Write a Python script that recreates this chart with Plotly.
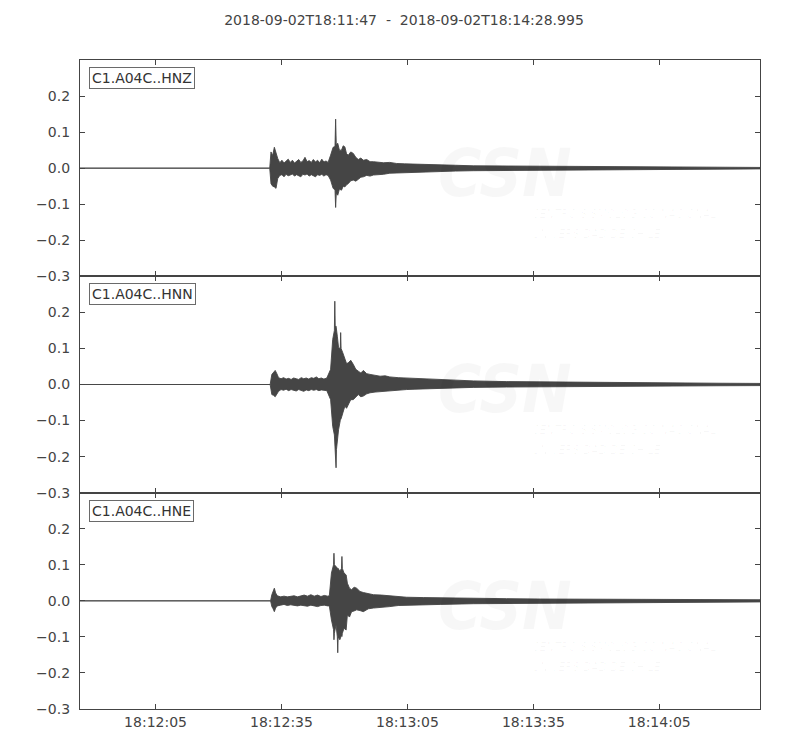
import pandas as pd
import plotly.graph_objects as go
from plotly.subplots import make_subplots


#--------------------------------------------------
#   envelope of the three traces
#   times are seconds after 2018-09-02T18:11:47
#--------------------------------------------------
start = '2018-09-02 18:11:47'
end = '2018-09-02 18:14:28.995'
channels = ['C1.A04C..HNZ', 'C1.A04C..HNN', 'C1.A04C..HNE']

hnz_t = [0, 45.2, 45.5, 45.9, 46.3, 46.7, 47.1, 47.6, 48.1, 48.6, 49.1, 49.6, 50.1, 50.6, 51.1,
         51.6, 52.1, 52.6, 53.1, 53.6, 54.1, 54.6, 55.1, 55.6, 56.1, 56.6, 57.1, 57.6, 58.1,
         58.6, 59.1, 59.7, 60.3, 60.75, 60.9, 61.05, 61.4, 61.8, 62.3, 62.7, 63.1, 63.5, 63.9,
         64.5, 65.1, 65.7, 66.3, 66.9, 67.5, 68.3, 69.1, 69.9, 71.0, 72.3, 73.8, 75.4, 77.3,
         79.4, 82.5, 85.8, 89.5, 93.7, 101.6, 109.6, 124, 138, 152, 162]
hnz_up = [0, 0, 0.045, 0.035, 0.058, 0.04, 0.027, 0.015, 0.022, 0.014, 0.02, 0.025, 0.016, 0.022, 0.014,
          0.019, 0.024, 0.016, 0.02, 0.03, 0.018, 0.021, 0.016, 0.024, 0.017, 0.022, 0.015, 0.025, 0.017,
          0.02, 0.016, 0.036, 0.058, 0.06, 0.136, 0.065, 0.069, 0.05, 0.05, 0.062, 0.059, 0.04, 0.036,
          0.045, 0.041, 0.03, 0.024, 0.028, 0.022, 0.024, 0.018, 0.018, 0.016, 0.015, 0.016, 0.013, 0.012,
          0.011, 0.010, 0.009, 0.008, 0.0065, 0.006, 0.005, 0.004, 0.003, 0.0025, 0.002]
hnz_lo = [0, 0, -0.043, -0.05, -0.052, -0.056, -0.029, -0.02, -0.018, -0.024, -0.017, -0.021, -0.019, -0.016, -0.022,
          -0.018, -0.02, -0.024, -0.017, -0.019, -0.016, -0.022, -0.018, -0.02, -0.024, -0.018, -0.02, -0.017, -0.022,
          -0.018, -0.02, -0.033, -0.056, -0.06, -0.109, -0.07, -0.075, -0.058, -0.061, -0.05, -0.052, -0.046, -0.043,
          -0.035, -0.033, -0.036, -0.031, -0.025, -0.024, -0.02, -0.022, -0.019, -0.018, -0.017, -0.014, -0.013, -0.012,
          -0.011, -0.010, -0.009, -0.008, -0.007, -0.006, -0.005, -0.004, -0.003, -0.0025, -0.002]

hnn_t = [0, 45.3, 45.7, 46.1, 46.5, 46.9, 47.3, 47.9, 48.5, 49.1, 49.7, 50.3, 50.9, 51.5, 52.1,
         52.7, 53.3, 53.9, 54.5, 55.1, 55.7, 56.3, 56.9, 57.5, 58.1, 58.8, 59.7, 60.2, 60.6,
         60.7, 60.8, 61.0, 61.1, 61.3, 61.6, 62.0, 62.1, 62.2, 62.6, 63.1, 63.5, 63.9, 64.5,
         65.1, 65.7, 66.3, 66.9, 67.5, 68.3, 69.1, 70.3, 71.5, 72.7, 73.8, 75.8, 77.8, 79.8,
         81.8, 85.8, 89.5, 93.7, 101.6, 109.6, 124, 138, 152, 162]
hnn_up = [0, 0, 0.028, 0.035, 0.039, 0.03, 0.019, 0.016, 0.019, 0.015, 0.017, 0.014, 0.018, 0.016, 0.014,
          0.019, 0.016, 0.018, 0.015, 0.019, 0.017, 0.021, 0.016, 0.018, 0.015, 0.018, 0.042, 0.125, 0.15,
          0.231, 0.16, 0.162, 0.14, 0.134, 0.102, 0.10, 0.144, 0.10, 0.088, 0.069, 0.058, 0.06, 0.067,
          0.056, 0.042, 0.037, 0.032, 0.039, 0.03, 0.028, 0.026, 0.023, 0.024, 0.021, 0.019, 0.018, 0.017,
          0.016, 0.012, 0.011, 0.010, 0.008, 0.007, 0.005, 0.004, 0.0035, 0.003]
hnn_lo = [0, 0, -0.028, -0.03, -0.034, -0.026, -0.019, -0.014, -0.016, -0.013, -0.017, -0.014, -0.016, -0.018, -0.014,
          -0.016, -0.019, -0.015, -0.017, -0.014, -0.016, -0.014, -0.017, -0.015, -0.016, -0.017, -0.042, -0.116, -0.14,
          -0.157, -0.17, -0.231, -0.18, -0.162, -0.125, -0.10, -0.097, -0.095, -0.083, -0.06, -0.066, -0.056, -0.042,
          -0.042, -0.035, -0.028, -0.034, -0.032, -0.026, -0.023, -0.021, -0.019, -0.018, -0.016, -0.016, -0.014, -0.013,
          -0.012, -0.010, -0.009, -0.008, -0.007, -0.006, -0.005, -0.004, -0.0035, -0.003]

hne_t = [0, 45.4, 45.7, 46.0, 46.3, 46.6, 47.0, 47.8, 48.6, 49.4, 50.2, 51.0, 51.8, 52.6, 53.4,
         54.2, 55.0, 55.8, 56.6, 57.4, 58.2, 59.0, 59.4, 59.9, 60.4, 60.5, 60.6, 61.0, 61.3,
         61.4, 61.5, 61.9, 62.3, 62.4, 62.5, 62.9, 63.4, 63.7, 64.2, 64.7, 65.3, 65.9, 66.7,
         67.5, 68.7, 69.9, 71.8, 73.8, 75.8, 77.8, 81.8, 85.8, 93.7, 101.6, 109.6, 124, 138, 152, 162]
hne_up = [0, 0, 0.017, 0.025, 0.035, 0.022, 0.014, 0.011, 0.013, 0.011, 0.012, 0.014, 0.011, 0.013, 0.016,
          0.013, 0.017, 0.013, 0.016, 0.012, 0.015, 0.013, 0.014, 0.077, 0.10, 0.132, 0.10, 0.095, 0.091,
          0.085, 0.09, 0.082, 0.09, 0.123, 0.09, 0.077, 0.072, 0.049, 0.035, 0.031, 0.038, 0.035, 0.026,
          0.023, 0.02, 0.017, 0.016, 0.014, 0.012, 0.010, 0.009, 0.008, 0.007, 0.006, 0.005, 0.004, 0.0035, 0.003, 0.003]
hne_lo = [0, 0, -0.016, -0.022, -0.030, -0.02, -0.014, -0.012, -0.01, -0.013, -0.011, -0.012, -0.014, -0.012, -0.013,
          -0.015, -0.012, -0.014, -0.016, -0.013, -0.012, -0.014, -0.014, -0.053, -0.08, -0.108, -0.09, -0.067, -0.10,
          -0.144, -0.10, -0.108, -0.095, -0.099, -0.09, -0.076, -0.081, -0.039, -0.045, -0.030, -0.028, -0.025, -0.027,
          -0.030, -0.022, -0.020, -0.017, -0.016, -0.013, -0.012, -0.011, -0.010, -0.008, -0.007, -0.006, -0.005, -0.004, -0.0035, -0.003]

traces = [(hnz_t, hnz_up, hnz_lo), (hnn_t, hnn_up, hnn_lo), (hne_t, hne_up, hne_lo)]

yticks = [-0.3, -0.2, -0.1, 0.0, 0.1, 0.2]

#--------------------------------------------------
# plotting
#--------------------------------------------------
base = pd.Timestamp(start)
ink = '#454545'
axc = '#444444'
wm = 'rgba(0,0,0,0.032)'
wm_font = 'DejaVu Sans Condensed, Liberation Sans'

fig = make_subplots(rows=3, cols=1, shared_xaxes=True, vertical_spacing=0)

for i, (t, up, lo) in enumerate(traces):
    times = list(base + pd.to_timedelta(t, unit='s'))
    xs = times + times[::-1]
    ys = list(up) + list(lo)[::-1]
    fig.add_trace(go.Scatter(x=xs, y=ys, mode='lines', fill='toself', fillcolor=ink,
                             line=dict(color=ink, width=0.9), hoverinfo='skip', showlegend=False),
                  row=i + 1, col=1)

for i, name in enumerate(channels):
    ax = '' if i == 0 else str(i + 1)
    xr, yr = 'x' + ax + ' domain', 'y' + ax + ' domain'
    # faint CSN watermark behind each trace
    fig.add_annotation(x=0.625, y=0.475, xref=xr, yref=yr, text='CSN', showarrow=False,
                       font=dict(family=wm_font, size=66, color=wm, weight='bold', style='italic'))
    fig.add_annotation(x=0.662, y=0.246, xref=xr, yref=yr, text='CENTRO SISMOLÓGICO NACIONAL',
                       showarrow=False, xanchor='left',
                       font=dict(family=wm_font, size=12, color=wm, style='italic'))
    fig.add_annotation(x=0.662, y=0.154, xref=xr, yref=yr, text='UNIVERSIDAD DE CHILE',
                       showarrow=False, xanchor='left',
                       font=dict(family=wm_font, size=12, color=wm, style='italic'))
    # channel label box
    fig.add_annotation(x=0.013, y=0.968, xref=xr, yref=yr, text=name, showarrow=False,
                       xanchor='left', yanchor='top',
                       bgcolor='white', bordercolor='#6a6a6a', borderwidth=1, borderpad=2,
                       font=dict(family='DejaVu Sans', size=14, color='#333333'))

fig.update_xaxes(range=[start, end], showline=True, mirror='ticks', linecolor=axc, linewidth=1.2,
                 ticks='inside', ticklen=5, tickcolor=axc, showgrid=False, zeroline=False,
                 tick0='2018-09-02 18:12:05', dtick=30000, tickformat='%H:%M:%S',
                 tickfont=dict(family='DejaVu Sans', size=14, color=axc))
fig.update_yaxes(range=[-0.3, 0.3], tickvals=yticks, tickformat='.1f',
                 showline=True, mirror='ticks', linecolor=axc, linewidth=1.2,
                 ticks='inside', ticklen=5, tickcolor=axc, showgrid=False, zeroline=False,
                 ticklabelstandoff=6,
                 tickfont=dict(family='DejaVu Sans', size=14, color=axc))

# the page adds an 8px body margin, so the figure is a little smaller than the window
fig.update_layout(
    width=792, height=742,
    margin=dict(l=72, r=40, t=52, b=41),
    paper_bgcolor='white', plot_bgcolor='white',
    title=dict(text='2018-09-02T18:11:47  -  2018-09-02T18:14:28.995', x=0.5, xref='container',
               xanchor='center', y=1 - 12 / 742, yref='container', yanchor='middle',
               font=dict(family='DejaVu Sans', size=14, color=axc)),
)

fig.write_html("out.html")
